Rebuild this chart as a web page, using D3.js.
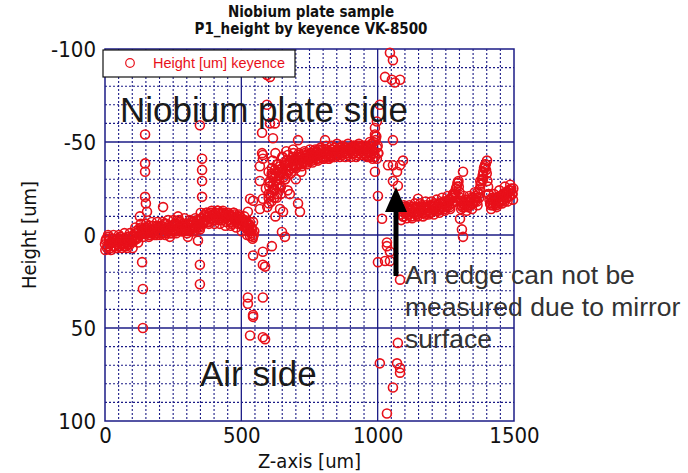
<!DOCTYPE html>
<html><head><meta charset="utf-8">
<script src="https://cdn.jsdelivr.net/npm/d3@7"></script>
<style>body{margin:0;background:#fff;} svg{display:block;}</style>
</head><body>
<svg id="chart" width="688" height="473"></svg>
<script>
// ---------- data ----------
const titleLines = ["Niobium plate sample", "P1_height by keyence VK-8500"];
const xTicks = [0, 500, 1000, 1500];
const yTicks = [-100, -50, 0, 50, 100];
const seriesName = "Height [um] keyence";
// main band, segment 1: three interleaved scans
const seg1Start = 0, seg1Step = 5;
const seg1Heights = [5,2,6,3,7,4,2,6,3,5, 4,1,5,3,6,2,4,5,1,4, 3,0,2,-1,1,-2,0,-3,-1,-4,
  -1,-4,-2,0,-3,-5,-1,-3,0,-4, -2,-5,-1,-4,-3,-6,-2,-4,-1,-5, -3,-6,-2,-5,-4,-7,-3,-5,-2,-6,
  -4,-6,-2,-5,-3,-7,-4,-6,-5,-8, -6,-9,-7,-11,-8,-10,-7,-12,-9,-11, -8,-12,-10,-13,-9,-11,-8,-12,-10,-7,
  -11,-8,-10,-6,-9,-11,-7,-10,-8,-6, -9,-5,-7,-4,-6,-3,-5,-1,-3,0];
const seg1bStart = 2.5, seg1bStep = 5;
const seg1bHeights = [3,7,1,5,4,2,6,4,7,2, 6,3,2,5,3,6,1,3,5,2, 1,3,-2,2,-3,0,-4,-1,-3,-1,
  -3,-1,-5,-3,-1,-2,-4,-1,-5,-2, -4,-1,-3,-6,-1,-3,-5,-2,-4,-2, -5,-2,-6,-3,-7,-4,-2,-6,-4,-3,
  -6,-3,-5,-7,-4,-2,-6,-8,-6,-4, -9,-6,-10,-8,-12,-7,-10,-9,-12,-8, -11,-9,-13,-8,-12,-10,-13,-9,-11,-10,
  -8,-11,-7,-10,-12,-8,-9,-6,-10,-8, -6,-8,-5,-7,-3,-6,-2,-4,1,-2];
const seg1cStart = 1.25, seg1cStep = 10;
const seg1cHeights = [8,0,8,0,7,0,7,-1,7,-1, 7,-4,4,-6,1,-6,1,-7,0,-7, 0,-7,0,-8,-1,-8,-1,-8,-2,-9,
  -1,-8,-2,-9,-4,-12,-6,-12,-6,-13, -6,-13,-6,-12,-5,-12,-5,-12,-4,-11, -2,-10,0,-7,2];
// segment 2
const seg2Start = 600, seg2Step = 5;
const seg2Heights = [-20,-28,-23,-31,-25,-33,-27,-35,-30,-26, -36,-31,-38,-33,-37,-35,-40,-36,-38,-41,
  -37,-40,-39,-42,-38,-41,-40,-43,-39,-42, -41,-44,-40,-43,-42,-45,-41,-44,-43,-46,
  -41,-44,-42,-45,-41,-44,-43,-46,-42,-45, -43,-46,-44,-47,-43,-46,-45,-47,-44,-46,
  -45,-47,-44,-47,-46,-48,-44,-47,-45,-48, -46,-43,-47,-44,-48,-43,-46,-50,-42,-53, -48];
const seg2bStart = 602.5, seg2bStep = 5;
const seg2bHeights = [-26,-21,-32,-27,-35,-29,-22,-32,-37,-34, -33,-39,-35,-40,-34,-39,-37,-42,-40,-37,
  -41,-38,-43,-40,-42,-39,-44,-41,-43,-40, -43,-41,-45,-42,-44,-41,-46,-43,-45,-42,
  -44,-42,-46,-43,-45,-42,-46,-44,-47,-43, -45,-43,-47,-45,-44,-47,-44,-46,-43,-47,
  -46,-44,-48,-45,-43,-46,-48,-45,-47,-44, -44,-48,-45,-47,-42,-49,-45,-44,-51,-47, -44];
const seg2cStart = 601.25, seg2cStep = 10;
const seg2cHeights = [-17,-33,-20,-38,-25,-42,-30,-43,-33,-44, -36,-44,-37,-45,-38,-46,-39,-46,
  -40,-47,-41,-48,-41,-48,-42,-49,-42,-48,-42,-49, -42,-48,-42,-49,-43,-48,-42,-50,-41,-53,-44];
// segment 3
const seg3Start = 1085, seg3Step = 5;
const seg3Heights = [-11,-14,-10,-13,-12,-15,-11,-13,-10,-14, -12,-15,-11,-14,-13,-16,-12,-14,-11,-15,
  -13,-16,-12,-15,-14,-17,-13,-16,-14,-17, -15,-18,-14,-17,-16,-19,-15,-20,-18,-20,
  -22,-26,-28,-23,-18,-15,-18,-16,-19,-15, -18,-16,-20,-17,-19,-21,-18,-22,-25,-28,
  -32,-36,-38,-33,-26,-19,-16,-20,-17,-19, -16,-20,-18,-21,-19,-22,-18,-23,-20,-24, -21,-25,-22];
const seg3bStart = 1087.5, seg3bStep = 5;
const seg3bHeights = [-13,-10,-15,-12,-14,-11,-14,-12,-15,-12, -14,-11,-15,-12,-15,-13,-15,-12,-16,-13,
  -15,-12,-16,-13,-16,-14,-15,-13,-17,-15, -17,-15,-18,-15,-18,-16,-19,-17,-21,-23,
  -25,-28,-26,-20,-16,-17,-15,-18,-16,-18, -16,-19,-17,-20,-18,-20,-23,-20,-27,-30,
  -34,-37,-35,-29,-22,-17,-19,-16,-20,-17, -19,-17,-21,-18,-21,-19,-22,-20,-23,-21, -24,-22,-25];
const seg3cStart = 1086.25, seg3cStep = 10;
const seg3cHeights = [-8,-16,-9,-16,-9,-17,-10,-17,-10,-18, -11,-18,-11,-19,-12,-20,-13,-21,-14,-22,
  -18,-29,-14,-21,-13,-21,-14,-23,-16,-29, -30,-38,-22,-14,-22,-15,-24,-17,-26,-18, -27,-19];
// scattered points [z, height]
const outliers = [
  [147,-54],[147,-38.5],[147,-34],[150,-17],[147,-20.5],[154,-12.5],[128,-10],[136,14.6],[139,29],[139,50],
  [348,-59],[356,-41],[356,-35],[356,-29],[356,-20.5],[348,-3],[341,3],[348,16],[348,26.5],
  [268,-10],[238,1],[304,1],[213,-15],
  [576,-55],[579,-43],[568,-37],[532,-19.5],[543,-18.4],[524,-12.5],[543,-7],[568,-14],[579,-19.5],
  [568,-29],[605,-29],[612,-36],[579,-41],[616,-52],[623,-60],[605,-60],[594,-86],[605,-85],[594,-70],
  [532,0.5],[543,11],[579,9],[587,17],[579,16],[612,6],[649,-1.6],[660,1],[642,-14],[653,-12.5],
  [708,-17],[642,-32],[524,33.6],[524,37],[543,43],[543,44],[579,33.6],[532,54],[587,56],[579,55],
  [708,-51],[807,-51],[576,-44],[678,-22],[715,-12.5],
  [600,-22],[610,-18],[620,-24],[630,-20],[640,-27],[615,-40],[625,-44],[635,-38],[650,-42],[660,-30],
  [670,-24],[600,-34],[590,-25],[595,-15],[625,-10],[645,-22],[665,-45],[690,-46],[700,-30],[720,-34],
  [1045,-98],[1056,-94],[1027,-85],[1052,-83.5],[1082,-83.5],[1063,-82],[1008,-70],[997,-61],[990,-54],
  [997,-41],[990,-34],[1038,-37.5],[1056,-37.5],[1082,-37.5],[1071,-34],[1056,-29],[1056,-51],[1093,-40],
  [1074,-26.5],[1016,-8.7],[1034,6],[1045,9],[1027,14],[1045,14],[1082,24],[1074,58],[1008,69],[1071,69],
  [1082,71.5],[1082,74],[1056,82],[1034,96],[1001,-21],[1034,4],[1001,14.6],[990,-57.5],
  [1148,-19.5],[1313,-34],[1302,-8.7],[1309,-3],[1313,1],[1401,-40],[1393,-36]
];
const annotations = ["Niobium plate side", "Air side"];
const noteLines = ["An edge can not be", "measured due to mirror", "surface"];

// ---------- build points ----------
const points = [];
function addSeg(start, step, hs){ hs.forEach((h,i)=>points.push({z:start+i*step,h})); }
addSeg(seg1Start, seg1Step, seg1Heights); addSeg(seg1bStart, seg1bStep, seg1bHeights); addSeg(seg1cStart, seg1cStep, seg1cHeights);
addSeg(seg2Start, seg2Step, seg2Heights); addSeg(seg2bStart, seg2bStep, seg2bHeights); addSeg(seg2cStart, seg2cStep, seg2cHeights);
addSeg(seg3Start, seg3Step, seg3Heights); addSeg(seg3bStart, seg3bStep, seg3bHeights); addSeg(seg3cStart, seg3cStep, seg3cHeights);
outliers.forEach(d=>points.push({z:d[0],h:d[1]}));

// ---------- layout ----------
const svg = d3.select("#chart");
const L=105, R=514, T=49, B=421;
const x = d3.scaleLinear().domain([0,1500]).range([L,R]);
const y = d3.scaleLinear().domain([-100,100]).range([T,B]);
const navy = "#1c1c86", red = "#e8101a";
const narrow = "'Liberation Sans Narrow','Arial Narrow','DejaVu Sans Condensed',sans-serif";
const sans = "'Liberation Sans',Arial,sans-serif";

// title
svg.selectAll("text.title").data(titleLines).enter().append("text")
  .attr("x", 311).attr("y",(d,i)=>17+i*17).attr("text-anchor","middle")
  .style("font-family",narrow).style("font-weight","bold").style("font-size","15px").attr("fill","#111").text(d=>d);

// grid minor
const g = svg.append("g");
g.selectAll("line.vx").data(d3.range(50,1500,50).filter(v=>v%500!==0)).enter().append("line")
  .attr("x1",d=>x(d)).attr("x2",d=>x(d)).attr("y1",T).attr("y2",B)
  .attr("stroke",navy).attr("stroke-width",1.1).attr("stroke-dasharray","2,2");
g.selectAll("line.hy").data(d3.range(-90,100,10).filter(v=>v%50!==0)).enter().append("line")
  .attr("x1",L).attr("x2",R).attr("y1",d=>y(d)).attr("y2",d=>y(d))
  .attr("stroke",navy).attr("stroke-width",1.1).attr("stroke-dasharray","2,2");
// grid major
g.selectAll("line.mx").data([500,1000]).enter().append("line")
  .attr("x1",d=>x(d)).attr("x2",d=>x(d)).attr("y1",T).attr("y2",B).attr("stroke",navy).attr("stroke-width",1.3);
g.selectAll("line.my").data([-50,0,50]).enter().append("line")
  .attr("x1",L).attr("x2",R).attr("y1",d=>y(d)).attr("y2",d=>y(d)).attr("stroke",navy).attr("stroke-width",1.3);
g.append("rect").attr("x",L).attr("y",T).attr("width",R-L).attr("height",B-T)
  .attr("fill","none").attr("stroke",navy).attr("stroke-width",1.5);

// points
svg.append("g").selectAll("circle").data(points).enter().append("circle")
  .attr("cx",d=>x(d.z)).attr("cy",d=>y(d.h)).attr("r",4.5)
  .attr("fill","none").attr("stroke",red).attr("stroke-width",1.6);

// axes
const fmt = d => String(d);
const ya = svg.append("g").attr("transform",`translate(${L},0)`)
  .call(d3.axisLeft(y).tickValues(yTicks).tickSize(0).tickPadding(9).tickFormat(fmt));
ya.select(".domain").remove();
ya.selectAll("text").style("font-family",narrow).style("font-size","22px").attr("fill","#111");
const xa = svg.append("g").attr("transform",`translate(0,${B})`)
  .call(d3.axisBottom(x).tickValues(xTicks).tickSize(0).tickPadding(6).tickFormat(fmt));
xa.select(".domain").remove();
xa.selectAll("text").style("font-family",narrow).style("font-size","22px").attr("fill","#111");

svg.append("text").attr("transform",`translate(36,${(T+B)/2}) rotate(-90)`).attr("text-anchor","middle")
  .style("font-family",narrow).style("font-size","20px").attr("fill","#111").text("Height [um]");
svg.append("text").attr("x",(L+R)/2).attr("y",468).attr("text-anchor","middle")
  .style("font-family",narrow).style("font-size","20px").attr("fill","#111").text("Z-axis [um]");

// legend
const lg = svg.append("g");
lg.append("rect").attr("x",103).attr("y",50).attr("width",192).attr("height",27)
  .attr("fill","#fff").attr("stroke","#111").attr("stroke-width",1.2);
lg.append("circle").attr("cx",130).attr("cy",63).attr("r",4.3).attr("fill","none").attr("stroke",red).attr("stroke-width",1.2);
lg.append("text").attr("x",153).attr("y",68).style("font-family",sans).style("font-size","14.5px")
  .attr("fill",red).text(seriesName);

// annotations
svg.append("text").attr("x",120).attr("y",122).style("font-family",sans).style("font-size","35px").attr("fill","#1a1a1a").text(annotations[0]);
svg.append("text").attr("x",200).attr("y",386).style("font-family",sans).style("font-size","35px").attr("fill","#1a1a1a").text(annotations[1]);
svg.selectAll("text.note").data(noteLines).enter().append("text")
  .attr("x",405).attr("y",(d,i)=>284+i*32).style("font-family",sans).style("font-size","26.5px").attr("fill","#333").text(d=>d);

// arrow
svg.append("line").attr("x1",396).attr("x2",396).attr("y1",276).attr("y2",208).attr("stroke","#000").attr("stroke-width",5);
svg.append("path").attr("d","M396,187 L385,212 L407,212 Z").attr("fill","#000");
</script>
</body></html>
